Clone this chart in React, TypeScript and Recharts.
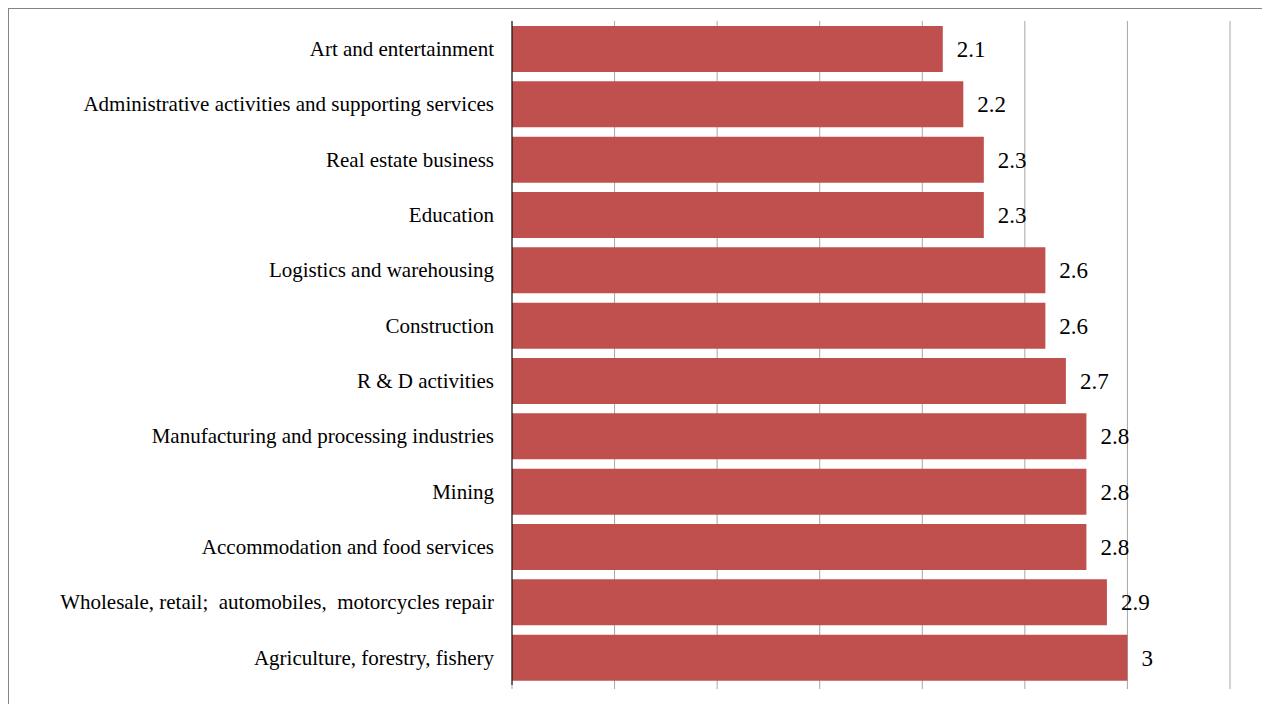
import React from 'react';
import { BarChart, Bar, XAxis, YAxis, CartesianGrid, LabelList } from 'recharts';

// sectors, listed top to bottom as in the chart
const sectors = [
  'Art and entertainment',
  'Administrative activities and supporting services',
  'Real estate business',
  'Education',
  'Logistics and warehousing',
  'Construction',
  'R & D activities',
  'Manufacturing and processing industries',
  'Mining',
  'Accommodation and food services',
  'Wholesale, retail;\u00A0 automobiles,\u00A0 motorcycles repair',
  'Agriculture, forestry, fishery',
];

const scores = [2.1, 2.2, 2.3, 2.3, 2.6, 2.6, 2.7, 2.8, 2.8, 2.8, 2.9, 3];

const xTicks = [0, 0.5, 1, 1.5, 2, 2.5, 3, 3.5];

const data = sectors.map((name, i) => ({ name, value: scores[i] }));

const serif = '"Liberation Serif", "Times New Roman", serif';

const App: React.FC = () => {
  return (
    <div style={{ width: 1262, height: 696, overflow: 'hidden' }}>
      <div
        style={{
          width: 1261,
          height: 695,
          borderTop: '1px solid #858585',
          borderLeft: '1px solid #858585',
        }}
      >
        <BarChart
          width={1253}
          height={694}
          data={data}
          layout="vertical"
          margin={{ top: 12, right: 32, left: 0, bottom: 0 }}
        >
          <CartesianGrid horizontal={false} stroke="#a6a6a6" />
          <XAxis
            type="number"
            domain={[0, 3.5]}
            ticks={xTicks}
            tick={() => <g />}
            tickSize={4}
            tickLine={{ stroke: '#a6a6a6' }}
            axisLine={false}
            height={18}
          />
          <YAxis
            type="category"
            dataKey="name"
            width={503}
            interval={0}
            tickLine={false}
            tickSize={0}
            tickMargin={18}
            axisLine={{ stroke: '#000' }}
            tick={{ fill: '#000', fontSize: 21, fontFamily: serif }}
          />
          <Bar dataKey="value" fill="#C0504D" barSize={46} isAnimationActive={false}>
            <LabelList
              dataKey="value"
              position="right"
              offset={14}
              fill="#000"
              fontSize={23}
              fontFamily={serif}
            />
          </Bar>
        </BarChart>
      </div>
    </div>
  );
};

export default App;
